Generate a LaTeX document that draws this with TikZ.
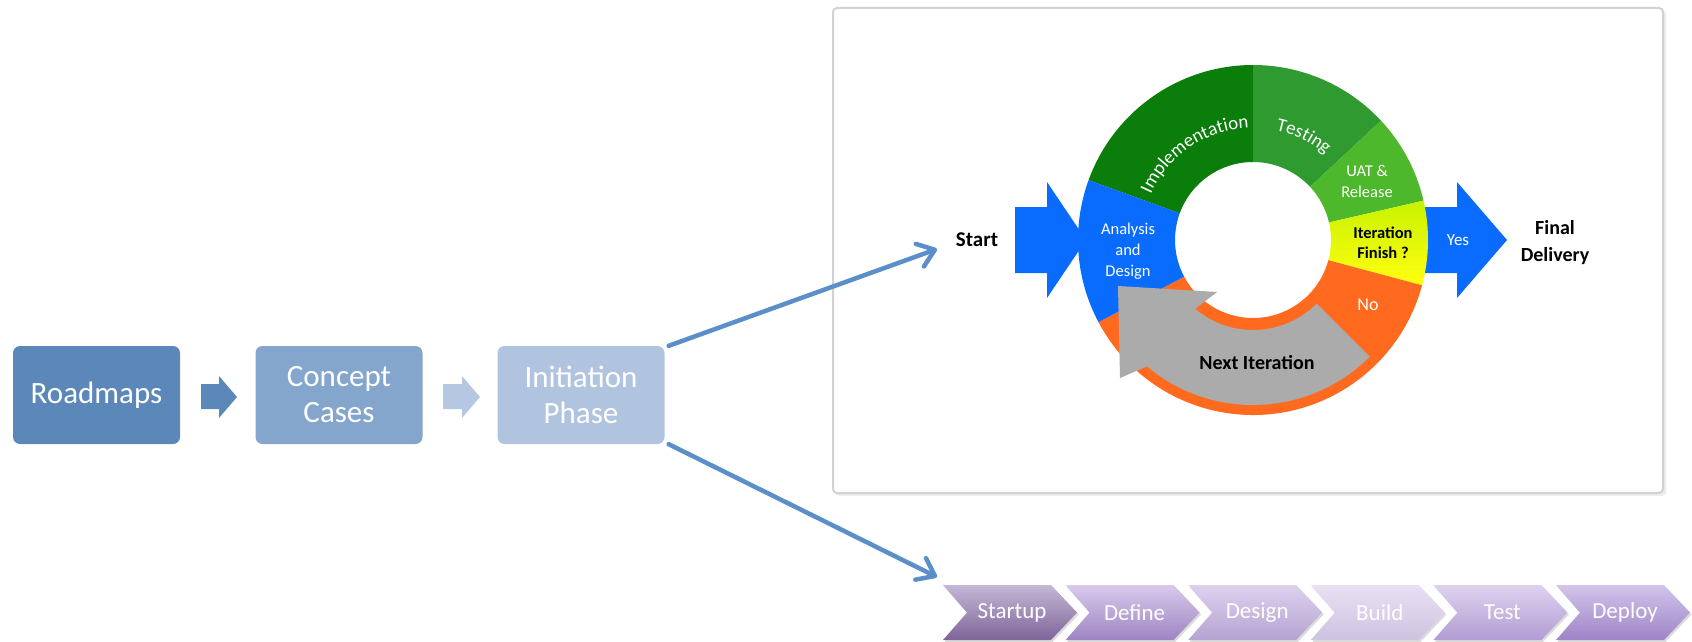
\documentclass[tikz,border=0pt]{standalone}
\usepackage{fontspec}
\setmainfont{Carlito}
\usetikzlibrary{arrows.meta,decorations.text}
\definecolor{rmblue}{HTML}{5B87B9}
\definecolor{ccblue}{HTML}{84A6CC}
\definecolor{ipblue}{HTML}{B1C4DF}
\definecolor{arrowlight}{HTML}{B6C8E1}
\definecolor{linkblue}{HTML}{5B8FC9}
\definecolor{implg}{HTML}{0A7D0A}
\definecolor{testg}{HTML}{2F9A2F}
\definecolor{uatg}{HTML}{4DB82B}
\definecolor{itertop}{HTML}{C8F200}
\definecolor{iterbot}{HTML}{FFFF10}
\definecolor{orng}{HTML}{FF6A1F}
\definecolor{bblue}{HTML}{0A6CFF}
\definecolor{grayarr}{HTML}{ABABAB}
\definecolor{boxline}{HTML}{D2D2D2}
\definecolor{chAt}{HTML}{C5B8D6}\definecolor{chAb}{HTML}{7E6499}
\definecolor{chBt}{HTML}{D8CAEC}\definecolor{chBb}{HTML}{9E84C2}
\definecolor{chCt}{HTML}{DDD1EE}\definecolor{chCb}{HTML}{B5A3D2}
\definecolor{chDt}{HTML}{E8E0F3}\definecolor{chDb}{HTML}{CEC3E0}
\definecolor{chEt}{HTML}{DED2EF}\definecolor{chEb}{HTML}{B19CD2}
\definecolor{chFt}{HTML}{D3C4EB}\definecolor{chFb}{HTML}{9D84C6}
\newcommand{\ringsector}[3]{%
  \fill[#1] ([shift={(C)}]#2:175) arc[start angle=#2, end angle=#3, radius=175]
    -- ([shift={(C)}]#3:78) arc[start angle=#3, end angle=#2, radius=78] -- cycle;}
\newcommand{\chevshape}[3]{%
  \fill[black!14] (#1+1.5,-587) -- ++(108,0) -- ++(26,-27.5) -- ++(-26,-27.5) -- ++(-108,0) -- ++(24,27.5) -- cycle;
  \shade[top color=#2, bottom color=#3] (#1,-585) -- ++(108,0) -- ++(26,-27.5) -- ++(-26,-27.5) -- ++(-108,0) -- ++(24,27.5) -- cycle;}
\begin{document}
\begin{tikzpicture}[x=1pt,y=1pt,
  lbox/.style={rounded corners=7pt, minimum width=167pt, minimum height=98pt, inner sep=0pt, text=white, align=center, font=\fontsize{31}{36}\selectfont},
  chevtext/.style={text=white, font=\fontsize{23}{23}\selectfont, inner sep=0pt},
  ringw/.style={text=white, align=center, inner sep=0pt, font=\fontsize{16.5}{21}\selectfont},
  ringb/.style={text=black, align=center, inner sep=0pt, font=\bfseries\fontsize{16.5}{20}\selectfont},
  outb/.style={text=black, align=center, inner sep=0pt, font=\bfseries\fontsize{20}{27}\selectfont},
  linkline/.style={draw=linkblue, line width=4.5pt, line cap=round, -{Straight Barb[length=16pt,width=24pt,round]}}
]
\useasboundingbox (0,0) rectangle (1692,-642);

% left process boxes
\node[lbox, fill=rmblue] (rm) at (96.5,-395) {Roadmaps};
\node[lbox, fill=ccblue] (cc) at (339,-395) {Concept\\Cases};
\node[lbox, fill=ipblue] (ip) at (581,-395) {Initiation\\Phase};
\fill[rmblue] (201,-384) -- (219,-384) -- (219,-376) -- (237,-397) -- (219,-418) -- (219,-409) -- (201,-409) -- cycle;
\fill[arrowlight] (443,-384) -- (462,-384) -- (462,-376) -- (480,-397) -- (462,-418) -- (462,-409) -- (443,-409) -- cycle;

% framed picture
\fill[black!7, rounded corners=4pt] (835,-10) rectangle (1666,-496);
\draw[boxline, line width=2pt, rounded corners=4pt, fill=white] (833,-8) rectangle (1663,-493);

\coordinate (C) at (1253,-240);
% blue start / yes arrows
\fill[bblue] (1015,-207) -- (1047,-207) -- (1047,-182) -- (1086,-240) -- (1047,-298) -- (1047,-273) -- (1015,-273) -- cycle;
\fill[bblue] (1420,-207) -- (1457,-207) -- (1457,-182) -- (1507,-240) -- (1457,-298) -- (1457,-273) -- (1420,-273) -- cycle;

% ring
\ringsector{implg}{90}{160}
\ringsector{testg}{43}{90}
\ringsector{uatg}{13}{43}
\shade[top color=itertop, bottom color=iterbot] ([shift={(C)}]-15:175) arc[start angle=-15, end angle=13, radius=175]
    -- ([shift={(C)}]13:78) arc[start angle=13, end angle=-15, radius=78] -- cycle;
\ringsector{orng}{208}{345}
\ringsector{bblue}{160}{208}

% next iteration arrow
\fill[grayarr] ([shift={(C)}]315:165) arc[start angle=315, end angle=230, radius=165]
  -- (1120,-378) -- (1118,-286) -- (1217,-292)
  -- ([shift={(C)}]230:90) arc[start angle=230, end angle=315, radius=90] -- cycle;

% ring texts
\path[decorate, decoration={text along path, text align=center,
  text={|\fontsize{19}{19}\selectfont\color{white}|Implementation}}]
  ([shift={(C)}]168:112) arc[start angle=168, end angle=80, radius=112];
\path[decorate, decoration={text along path, text align=center,
  text={|\fontsize{19}{19}\selectfont\color{white}|Testing}}]
  ([shift={(C)}]88:112) arc[start angle=88, end angle=40, radius=112];
\node[ringw] (uat) at (1367,-181) {UAT \&\\Release};
\node[ringb] (iter) at (1383,-243) {Iteration\\Finish ?};
\node[ringw, font=\fontsize{18}{20}\selectfont] (no) at (1368,-305) {No};
\node[ringw] (ad) at (1128,-251) {Analysis\\and\\Design};
\node[ringw, font=\fontsize{17}{20}\selectfont] (yes) at (1458,-240) {Yes};
\node[outb] (next) at (1257,-363) {Next Iteration};
\node[outb, font=\bfseries\fontsize{21}{27}\selectfont] (start) at (977,-240) {Start};
\node[outb] (final) at (1555,-243) {Final\\Delivery};

% chevrons
\chevshape{943}{chAt}{chAb}
\chevshape{1065.6}{chBt}{chBb}
\chevshape{1188.2}{chCt}{chCb}
\chevshape{1310.8}{chDt}{chDb}
\chevshape{1433.4}{chEt}{chEb}
\chevshape{1556}{chFt}{chFb}
\node[chevtext] (c1) at (1012,-612.5) {Startup};
\node[chevtext] (c2) at (1134.6,-612.5) {Define};
\node[chevtext] (c3) at (1257.2,-612.5) {Design};
\node[chevtext] (c4) at (1379.8,-612.5) {Build};
\node[chevtext] (c5) at (1502.4,-612.5) {Test};
\node[chevtext] (c6) at (1625,-612.5) {Deploy};

% connectors
\coordinate (startin) at (937,-249);
\coordinate (chevin) at (937,-577);
\draw[linkline] ([xshift=4pt]ip.north east) -- (startin);
\draw[linkline] ([xshift=4pt]ip.south east) -- (chevin);
\end{tikzpicture}
\end{document}
